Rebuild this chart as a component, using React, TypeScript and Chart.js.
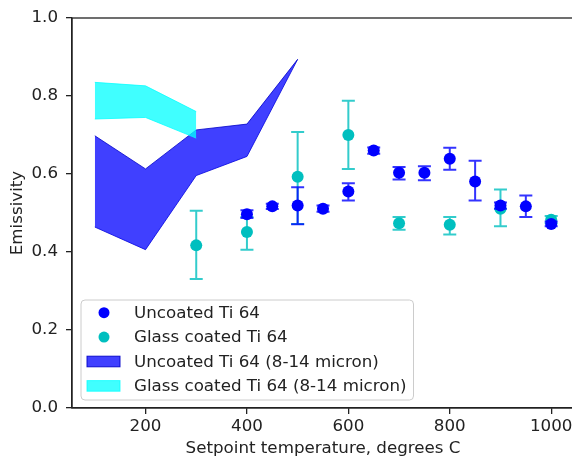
import React, { useEffect, useRef } from "react";
import { Chart, registerables } from "chart.js";

Chart.register(...registerables);

// ---- data ----
const uncoatedTemps = [400, 450, 500, 550, 600, 650, 700, 750, 800, 850, 900, 950, 1000];
const uncoatedValues = [0.497, 0.517, 0.519, 0.511, 0.555, 0.660, 0.603, 0.603, 0.639, 0.581, 0.519, 0.517, 0.472];
const uncoatedLow = [0.487, 0.510, 0.471, 0.503, 0.532, 0.652, 0.586, 0.584, 0.611, 0.532, 0.511, 0.490, 0.466];
const uncoatedHigh = [0.507, 0.524, 0.566, 0.519, 0.576, 0.668, 0.618, 0.620, 0.667, 0.634, 0.527, 0.545, 0.478];

const glassTemps = [300, 400, 500, 600, 700, 800, 900, 1000];
const glassValues = [0.417, 0.451, 0.593, 0.700, 0.474, 0.470, 0.511, 0.483];
const glassLow = [0.331, 0.406, 0.472, 0.613, 0.457, 0.445, 0.466, 0.474];
const glassHigh = [0.506, 0.490, 0.708, 0.788, 0.490, 0.490, 0.560, 0.492];

const uncoatedBandTemps = [100, 200, 300, 400, 500];
const uncoatedBandUpper = [0.698, 0.613, 0.713, 0.728, 0.894];
const uncoatedBandLower = [0.464, 0.406, 0.596, 0.645, 0.894];

const glassBandTemps = [100, 200, 300];
const glassBandUpper = [0.835, 0.826, 0.760];
const glassBandLower = [0.741, 0.745, 0.692];

const xTicks = [200, 400, 600, 800, 1000];
const yTicks = [0, 0.2, 0.4, 0.6, 0.8, 1.0];

const legendLabels = [
  "Uncoated Ti 64",
  "Glass coated Ti 64",
  "Uncoated Ti 64 (8-14 micron)",
  "Glass coated Ti 64 (8-14 micron)",
];

const BLUE = "#0000ff";
const CYAN = "#00bfbf";
const BLUE_BAND = "rgba(0,0,255,0.75)";
const CYAN_BAND = "rgba(0,255,255,0.75)";
const FONT = { family: '"DejaVu Sans", sans-serif', size: 16.7 };
const TEXT = "#222222";

const toXY = (xs: number[], ys: number[]) => xs.map((x, i) => ({ x, y: ys[i] }));

const errorBarPlugin = {
  id: "errorBars",
  beforeDatasetDraw(chart: any, args: any) {
    const ds = chart.data.datasets[args.index];
    if (!ds.errLow) return;
    const xs = chart.scales.x;
    const ys = chart.scales.y;
    const ctx = chart.ctx;
    ctx.save();
    ctx.strokeStyle = ds.errColor;
    ctx.lineWidth = 2;
    ds.data.forEach((p: any, i: number) => {
      const px = xs.getPixelForValue(p.x);
      const yl = ys.getPixelForValue(ds.errLow[i]);
      const yh = ys.getPixelForValue(ds.errHigh[i]);
      ctx.beginPath();
      ctx.moveTo(px, yl);
      ctx.lineTo(px, yh);
      ctx.moveTo(px - 6.5, yl);
      ctx.lineTo(px + 6.5, yl);
      ctx.moveTo(px - 6.5, yh);
      ctx.lineTo(px + 6.5, yh);
      ctx.stroke();
    });
    ctx.restore();
  },
};

const frameLegendPlugin = {
  id: "frameLegend",
  afterDraw(chart: any) {
    const ctx = chart.ctx;
    const a = chart.chartArea;
    ctx.save();
    // spines
    ctx.strokeStyle = "#222";
    ctx.lineWidth = 1.3;
    ctx.strokeRect(a.left, a.top, a.right - a.left, a.bottom - a.top);

    // legend
    ctx.font = `${FONT.size}px ${FONT.family}`;
    const textW = Math.max(...legendLabels.map((t) => ctx.measureText(t).width));
    const left = a.left + 9;
    const top = a.bottom - 108;
    const w = 53 + textW + 7;
    const h = 100;
    ctx.beginPath();
    ctx.roundRect(left, top, w, h, 4);
    ctx.fillStyle = "rgba(255,255,255,0.8)";
    ctx.fill();
    ctx.strokeStyle = "#cccccc";
    ctx.lineWidth = 1;
    ctx.stroke();
    const kinds = [
      { type: "pt", color: BLUE },
      { type: "pt", color: CYAN },
      { type: "patch", color: BLUE_BAND, edge: "rgba(0,0,200,0.9)" },
      { type: "patch", color: CYAN_BAND, edge: CYAN_BAND },
    ];
    legendLabels.forEach((label, i) => {
      const cy = top + 12.7 + i * 24.4;
      const k: any = kinds[i];
      if (k.type === "pt") {
        ctx.beginPath();
        ctx.arc(left + 23, cy, 5.5, 0, Math.PI * 2);
        ctx.fillStyle = k.color;
        ctx.fill();
      } else {
        ctx.fillStyle = k.color;
        ctx.fillRect(left + 6, cy - 5.3, 33, 10.6);
        ctx.strokeStyle = k.edge;
        ctx.lineWidth = 1;
        ctx.strokeRect(left + 6, cy - 5.3, 33, 10.6);
      }
      ctx.fillStyle = TEXT;
      ctx.textBaseline = "middle";
      ctx.textAlign = "left";
      ctx.fillText(label, left + 53, cy + 1);
    });
    ctx.restore();
  },
};

export default function App() {
  const ref = useRef<HTMLCanvasElement>(null);
  useEffect(() => {
    const chart = new Chart(ref.current!, {
      type: "scatter",
      data: {
        datasets: [
          {
            label: legendLabels[0],
            data: toXY(uncoatedTemps, uncoatedValues),
            backgroundColor: BLUE,
            borderColor: BLUE,
            pointRadius: 6,
            pointBorderWidth: 0,
            showLine: false,
            order: 0,
            errLow: uncoatedLow,
            errHigh: uncoatedHigh,
            errColor: "rgba(0,0,255,0.8)",
          } as any,
          {
            label: legendLabels[1],
            data: toXY(glassTemps, glassValues),
            backgroundColor: CYAN,
            borderColor: CYAN,
            pointRadius: 6,
            pointBorderWidth: 0,
            showLine: false,
            order: 1,
            errLow: glassLow,
            errHigh: glassHigh,
            errColor: "rgba(0,191,191,0.8)",
          } as any,
          {
            type: "line",
            label: legendLabels[3],
            data: toXY(glassBandTemps, glassBandUpper),
            borderColor: CYAN_BAND,
            backgroundColor: CYAN_BAND,
            borderWidth: 1,
            pointRadius: 0,
            fill: "+1",
            tension: 0,
            order: 2,
          },
          {
            type: "line",
            label: "glass lower",
            data: toXY(glassBandTemps, glassBandLower),
            borderColor: CYAN_BAND,
            borderWidth: 1,
            pointRadius: 0,
            fill: false,
            tension: 0,
            order: 2,
          },
          {
            type: "line",
            label: legendLabels[2],
            data: toXY(uncoatedBandTemps, uncoatedBandUpper),
            borderColor: "rgba(0,0,200,0.8)",
            backgroundColor: BLUE_BAND,
            borderWidth: 1,
            pointRadius: 0,
            fill: "+1",
            tension: 0,
            order: 3,
          },
          {
            type: "line",
            label: "uncoated lower",
            data: toXY(uncoatedBandTemps, uncoatedBandLower),
            borderColor: "rgba(0,0,200,0.8)",
            borderWidth: 1,
            pointRadius: 0,
            fill: false,
            tension: 0,
            order: 3,
          },
        ],
      },
      options: {
        animation: false,
        responsive: false,
        layout: { padding: { left: 0, top: 18, right: 0, bottom: 0 } },
        plugins: {
          legend: { display: false },
          tooltip: { enabled: false },
          filler: { propagate: false },
        },
        scales: {
          x: {
            type: "linear",
            min: 55,
            max: 1045,
            afterBuildTicks: (s: any) => {
              s.ticks = xTicks.map((v) => ({ value: v }));
            },
            afterFit: (s: any) => {
              s.height = 51;
              s.paddingLeft = 0;
              s.paddingRight = 0;
            },
            ticks: {
              font: FONT,
              color: TEXT,
              padding: 3,
              maxRotation: 0,
              autoSkip: false,
              callback: (v: any) => String(v),
            },
            grid: {
              display: true,
              drawOnChartArea: false,
              drawTicks: true,
              tickLength: 6,
              color: "#222",
              lineWidth: 1.3,
            },
            border: { display: true, color: "#222", width: 1.3 },
            title: {
              display: true,
              text: "Setpoint temperature, degrees C",
              font: FONT,
              color: TEXT,
              padding: { top: 0, bottom: 0 },
            },
          },
          y: {
            type: "linear",
            min: 0,
            max: 1,
            afterBuildTicks: (s: any) => {
              s.ticks = yTicks.map((v) => ({ value: v }));
            },
            afterFit: (s: any) => {
              s.width = 72;
              s.paddingTop = 0;
              s.paddingBottom = 0;
            },
            ticks: {
              font: FONT,
              color: TEXT,
              padding: 8,
              autoSkip: false,
              callback: (v: any) => Number(v).toFixed(1),
            },
            grid: {
              display: true,
              drawOnChartArea: false,
              drawTicks: true,
              tickLength: 6,
              color: "#222",
              lineWidth: 1.3,
            },
            border: { display: true, color: "#222", width: 1.3 },
            title: {
              display: true,
              text: "Emissivity",
              font: FONT,
              color: TEXT,
              padding: { top: 8, bottom: 0 },
            },
          },
        },
      },
      plugins: [errorBarPlugin, frameLegendPlugin],
    });
    return () => chart.destroy();
  }, []);

  return (
    <div style={{ position: "absolute", left: 0, top: 0, width: 572, height: 459, overflow: "hidden", background: "#fff" }}>
      <canvas ref={ref} width={580} height={459} style={{ width: 580, height: 459, display: "block" }} />
    </div>
  );
}
